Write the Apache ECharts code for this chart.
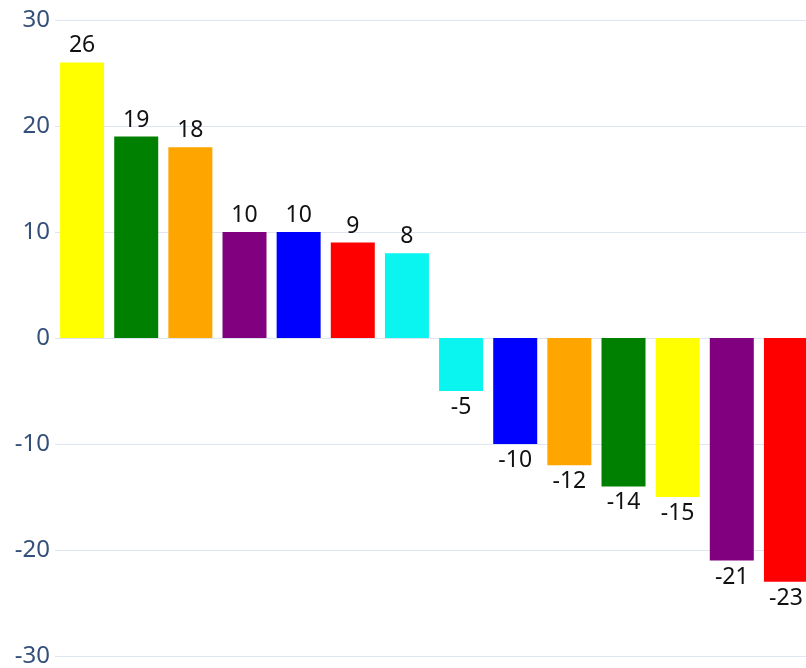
<!DOCTYPE html>
<html><head><meta charset="utf-8">
<script src="https://cdn.jsdelivr.net/npm/echarts@6/dist/echarts.min.js"></script>
<style>html,body{margin:0;padding:0;background:#fff;overflow:hidden;width:806px;height:668px}#c{width:813px;height:668px}</style>
</head><body><div id="c"></div>
<script>
const categories = ['A','B','C','D','E','F','G','H','I','J','K','L','M','N'];
const values = [26, 19, 18, 10, 10, 9, 8, -5, -10, -12, -14, -15, -21, -23];
const barColors = ['#ffff00','#008000','#ffa500','#800080','#0000ff','#ff0000','#0af5f0',
                   '#0af5f0','#0000ff','#ffa500','#008000','#ffff00','#800080','#ff0000'];
const yMin = -30, yMax = 30, yStep = 10;

const chart = echarts.init(document.getElementById('c'));
chart.setOption({
  animation: false,
  grid: { left: 55, right: 0, top: 20, bottom: 12, containLabel: false },
  xAxis: {
    type: 'category', data: categories,
    axisLine: { show: false }, axisTick: { show: false }, axisLabel: { show: false }
  },
  yAxis: {
    type: 'value', min: yMin, max: yMax, interval: yStep,
    axisLine: { show: false }, axisTick: { show: false },
    axisLabel: { fontSize: 24, color: '#34507a', margin: 5, fontFamily: 'Noto Sans' },
    splitLine: { lineStyle: { color: '#e0e6f1' } }
  },
  series: [{
    type: 'bar',
    barWidth: 44,
    data: values.map((v, i) => ({ value: v, itemStyle: { color: barColors[i] },
      label: { position: v >= 0 ? 'top' : 'bottom' } })),
    label: { show: true, fontSize: 23, color: '#111', fontFamily: 'Noto Sans', distance: 5 }
  }]
});
</script></body></html>
